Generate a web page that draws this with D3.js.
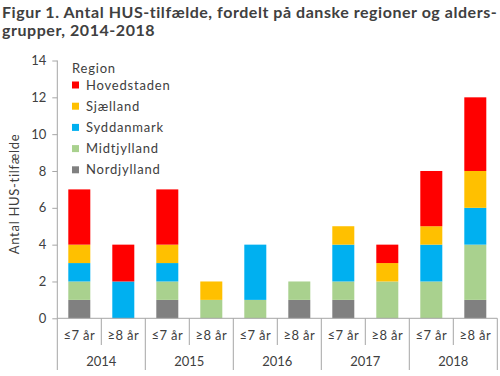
<!DOCTYPE html>
<html><head><meta charset="utf-8">
<script src="https://cdn.jsdelivr.net/npm/d3@7"></script>
<style>body{margin:0;background:#fff}svg{display:block}text{font-family:"Century Gothic","Lato","Open Sans",sans-serif}</style>
</head><body><svg id="c" width="500" height="376"></svg>
<script>
const years = ["2014","2015","2016","2017","2018"];
const ages = ["≤7 år","≥8 år"];
const regions = ["Nordjylland","Midtjylland","Syddanmark","Sjælland","Hovedstaden"];
const colors = ["#808080","#a9d18e","#00b0f0","#ffc000","#ff0000"];
// order of bars: 2014 ≤7, 2014 ≥8, 2015 ≤7, ...
const nordjylland = [1,0,1,0,0,1,1,0,0,1];
const midtjylland = [1,0,1,1,1,1,1,2,2,3];
const syddanmark  = [1,2,1,0,3,0,2,0,2,2];
const sjaelland   = [1,0,1,1,0,0,1,1,1,2];
const hovedstaden = [3,2,3,0,0,0,0,1,3,4];
const yTicks = [0,2,4,6,8,10,12,14];

const series = [nordjylland,midtjylland,syddanmark,sjaelland,hovedstaden];
const cats = [];
years.forEach(y=>ages.forEach(a=>cats.push(y+"|"+a)));
const rows = cats.map((c,i)=>{const o={cat:c};regions.forEach((r,j)=>o[r]=series[j][i]);return o;});

const svg = d3.select("#c");
const L=57.3, R=497.3, T=60.5, B=318.3;
const x = d3.scaleBand().domain(cats).range([L,R]).paddingInner(0.5).paddingOuter(0.25);
const y = d3.scaleLinear().domain([0,14]).range([B,T]);
const axisCol="#a6a6a6", textCol="#404040";

// title
const title = svg.append("g").attr("fill",textCol).attr("font-weight","bold").attr("font-size","16px");
const t1 = title.append("text").attr("x",2).attr("y",18).text("Figur 1. Antal HUS-tilfælde, fordelt på danske regioner og alders-");
const t2 = title.append("text").attr("x",2).attr("y",36).text("grupper, 2014-2018");
const str1 = "Figur 1. Antal HUS-tilfælde, fordelt på danske regioner og alders-";
const w1 = t1.node().getComputedTextLength();
const ls = (495 - w1) / (str1.length - 1);
t1.attr("letter-spacing", ls + "px");
t2.attr("letter-spacing", ls + "px");

// bars
const stack = d3.stack().keys(regions)(rows);
svg.append("g").selectAll("g").data(stack).join("g").attr("fill",(d,i)=>colors[i])
 .selectAll("rect").data(d=>d).join("rect")
 .attr("x",d=>x(d.data.cat)).attr("width",x.bandwidth())
 .attr("y",d=>y(d[1])).attr("height",d=>y(d[0])-y(d[1]));

// y axis
const ya = svg.append("g").attr("transform",`translate(${L},0)`)
 .call(d3.axisLeft(y).tickValues(yTicks).tickSize(5).tickPadding(6));
ya.select(".domain").attr("stroke",axisCol).attr("d",`M0,${T}V${B}`);
ya.selectAll(".tick line").attr("stroke",axisCol);
ya.selectAll(".tick text").attr("fill",textCol).attr("font-size","13px").attr("font-family",null);

// x axis line
svg.append("line").attr("x1",L).attr("x2",R).attr("y1",B).attr("y2",B).attr("stroke",axisCol);
const step = x.step();
// separators
cats.forEach((c,i)=>{
  const xs = L + i*step;
  const long = i%2===0;
  svg.append("line").attr("x1",xs).attr("x2",xs).attr("y1",B).attr("y2",long?370:345).attr("stroke",axisCol);
});
svg.append("line").attr("x1",R).attr("x2",R).attr("y1",B).attr("y2",370).attr("stroke",axisCol);
// sub labels
svg.append("g").selectAll("text").data(cats).join("text")
 .attr("x",d=>x(d)+x.bandwidth()/2).attr("y",340).attr("text-anchor","middle")
 .attr("font-size","13px").attr("letter-spacing","0.4px").attr("fill",textCol).text(d=>d.split("|")[1]);
// year labels
svg.append("g").selectAll("text").data(years).join("text")
 .attr("x",(d,i)=>L+step*(2*i+1)).attr("y",366).attr("text-anchor","middle")
 .attr("font-size","13px").attr("fill",textCol).text(d=>d);

// y title
svg.append("text").attr("transform",`translate(19,194) rotate(-90)`).attr("text-anchor","middle")
 .attr("font-size","13px").attr("letter-spacing","0.7px").attr("fill",textCol).text("Antal HUS-tilfælde");

// legend
const lg = svg.append("g");
lg.append("text").attr("x",72).attr("y",72.5).attr("font-size","13px").attr("letter-spacing","0.8px").attr("fill",textCol).text("Region");
const legOrder = [4,3,2,1,0];
legOrder.forEach((j,k)=>{
  const cy = 85 + k*21.2;
  lg.append("rect").attr("x",72).attr("y",cy-3.5).attr("width",7).attr("height",7).attr("fill",colors[j]);
  lg.append("text").attr("x",86).attr("y",cy+4.5).attr("font-size","13px").attr("letter-spacing","0.8px").attr("fill",textCol).text(regions[j]);
});
</script></body></html>
